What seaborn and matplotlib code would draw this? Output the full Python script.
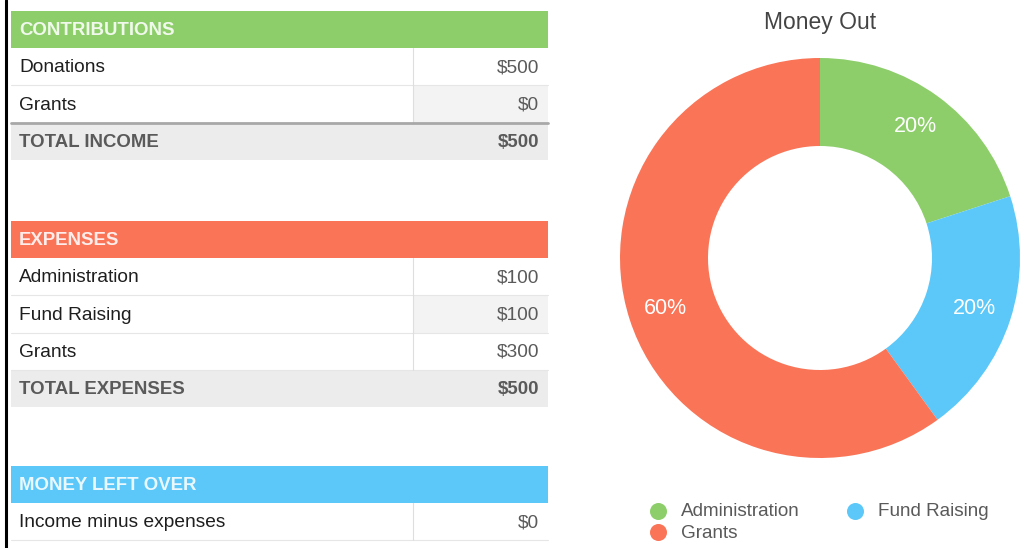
import matplotlib
matplotlib.use("Agg")
import matplotlib.pyplot as plt
import seaborn as sns

# table data
sections = ["CONTRIBUTIONS", "EXPENSES", "MONEY LEFT OVER"]
contrib_items = ["Donations", "Grants"]
contrib_values = [500, 0]
expense_items = ["Administration", "Fund Raising", "Grants"]
expense_values = [100, 100, 300]
leftover_items = ["Income minus expenses"]
leftover_values = [0]
total_labels = ["TOTAL INCOME", "TOTAL EXPENSES"]
total_values = [500, 500]

# donut data
out_labels = ["Administration", "Fund Raising", "Grants"]
out_shares = [20, 20, 60]

GREEN, RED, BLUE = "#8dce6b", "#fa7457", "#5bc8f9"
out_colors = [GREEN, BLUE, RED]

sns.set_theme(style="white")
plt.rcParams["font.family"] = ["Liberation Sans", "DejaVu Sans"]

W, H = 1026, 548
fig = plt.figure(figsize=(W / 100, H / 100), dpi=100)
bg = fig.add_axes([0, 0, 1, 1])
bg.set_xlim(0, W)
bg.set_ylim(H, 0)
bg.axis("off")

X0, X1, XDIV = 11, 548, 413
ROW = 37.2
FS = 13.8
FSB = 13.4


def header(y, text, color):
    bg.add_patch(plt.Rectangle((X0, y), X1 - X0, ROW, color=color, lw=0))
    bg.text(19, y + ROW / 2 + 1, text, color="white", alpha=0.88, fontsize=FSB,
            fontweight="bold", va="center")
    return y + ROW


def rows(y, items, values):
    for i, (name, val) in enumerate(zip(items, values)):
        if i % 2 == 1:
            bg.add_patch(plt.Rectangle((XDIV, y), X1 - XDIV, ROW, color="#f3f3f3", lw=0))
        bg.plot([X0, X1], [y + ROW, y + ROW], color="#e6e6e6", lw=0.8)
        bg.plot([XDIV, XDIV], [y, y + ROW], color="#dedede", lw=0.8)
        bg.text(19, y + ROW / 2 + 1, name, color="#1e1e1e", fontsize=FS, va="center")
        bg.text(539, y + ROW / 2 + 1, f"${val}", color="#5a5a5a", fontsize=FS,
                va="center", ha="right")
        y += ROW
    return y


def total(y, label, val, rule=False):
    bg.add_patch(plt.Rectangle((X0, y), X1 - X0, ROW, color="#ececec", lw=0))
    if rule:
        bg.plot([X0, X1], [y, y], color="#a8a8a8", lw=2)
    bg.text(19, y + ROW / 2 + 1, label, color="#5a5a5a", fontsize=FSB,
            fontweight="bold", va="center")
    bg.text(539, y + ROW / 2 + 1, f"${val}", color="#5a5a5a", fontsize=FSB,
            fontweight="bold", va="center", ha="right")


y = header(11, sections[0], GREEN)
y = rows(y, contrib_items, contrib_values)
total(y, total_labels[0], total_values[0], rule=True)

y = header(221, sections[1], RED)
y = rows(y, expense_items, expense_values)
total(y, total_labels[1], total_values[1])

y = header(466, sections[2], BLUE)
rows(y, leftover_items, leftover_values)

# left frame line
bg.plot([6, 6], [0, H], color="black", lw=2.2)

# donut
cx, cy, r = 820, 258, 200
pax = fig.add_axes([(cx - r) / W, (H - cy - r) / H, 2 * r / W, 2 * r / H])
pax.pie(out_shares, colors=out_colors, startangle=90, counterclock=False,
        wedgeprops=dict(width=0.44, linewidth=0),
        autopct="%d%%", pctdistance=0.81,
        textprops=dict(color="white", fontsize=15.5))
pax.set_aspect("equal")
pax.set_xlim(-1, 1)
pax.set_ylim(-1, 1)

bg.text(cx, 22, "Money Out", ha="center", va="center", fontsize=16.5, color="#444444")

# legend
leg_pos = [(658, 511), (855, 511), (658, 532)]
for (lx, ly), name, col in zip(leg_pos, out_labels, out_colors):
    bg.scatter(lx, ly, s=150, color=col, lw=0)
    bg.text(lx + 23, ly + 1, name, va="center", fontsize=13.6, color="#5a5a5a")

fig.savefig("out.png", dpi=100)
